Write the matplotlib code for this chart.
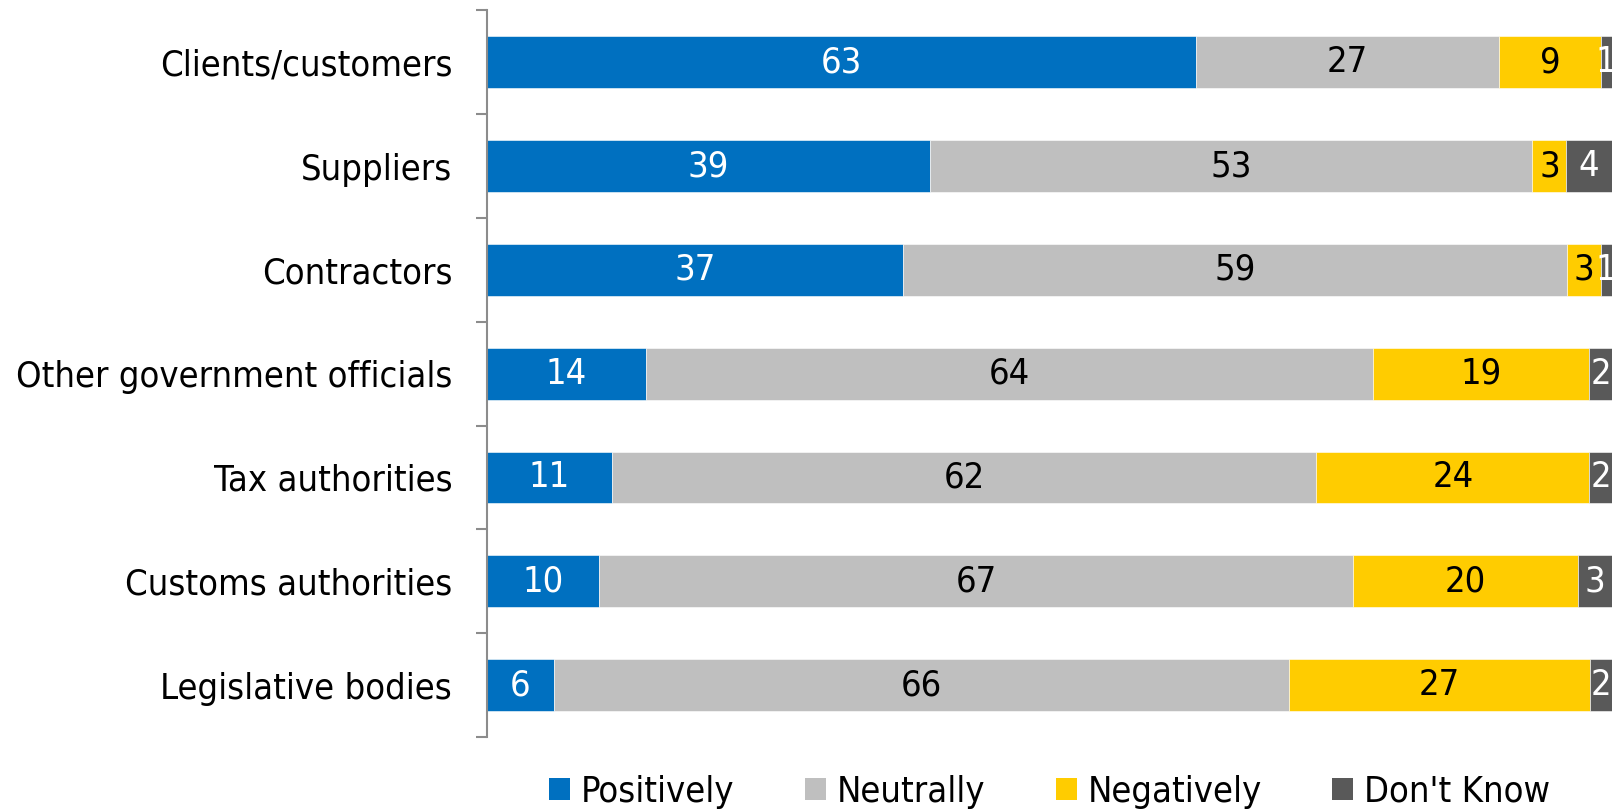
import matplotlib.pyplot as plt
import numpy as np
from matplotlib import font_manager
from matplotlib.patches import Patch

categories = [
    "Clients/customers",
    "Suppliers",
    "Contractors",
    "Other government officials",
    "Tax authorities",
    "Customs authorities",
    "Legislative bodies",
]
positively = [63, 39, 37, 14, 11, 10, 6]
neutrally = [27, 53, 59, 64, 62, 67, 66]
negatively = [9, 3, 3, 19, 24, 20, 27]
dont_know = [1, 4, 1, 2, 2, 3, 2]

series_names = ["Positively", "Neutrally", "Negatively", "Don't Know"]
colors = ["#0070C0", "#BFBFBF", "#FFCC00", "#595959"]
text_colors = ["white", "black", "black", "white"]

# narrower face if the condensed DejaVu is on the system
has_condensed = any("Condensed" in f.fname for f in font_manager.fontManager.ttflist
                    if f.name == "DejaVu Sans")
plt.rcParams["font.family"] = ["DejaVu Sans"]
if has_condensed:
    plt.rcParams["font.stretch"] = "condensed"
    FS = 26
else:
    FS = 23

fig = plt.figure(figsize=(16.2, 8.11), dpi=100)
ax = fig.add_axes([0.3006, 0.0912, 0.6944, 0.8961])

data = np.array([positively, neutrally, negatively, dont_know], dtype=float)
# 100% stacked: scale each row by its total
shares = data / data.sum(axis=0) * 100
y = np.arange(len(categories))
left = np.zeros(len(categories))

for vals, shr, name, col, tcol in zip(data, shares, series_names, colors, text_colors):
    ax.barh(y, shr, left=left, height=0.5, color=col, label=name,
            edgecolor="white", linewidth=0.4)
    for yi, v, s, l in zip(y, vals, shr, left):
        ax.text(l + s / 2, yi, f"{v:.0f}", ha="center", va="center",
                fontsize=FS, color=tcol)
    left += shr

ax.set_xlim(0, 100)
ax.set_ylim(len(categories) - 0.5, -0.5)
ax.set_yticks(y)
ax.set_yticklabels(categories, fontsize=FS)
ax.set_yticks(np.arange(-0.5, len(categories), 1), minor=True)
ax.tick_params(axis="y", which="major", length=0, pad=25)
ax.tick_params(axis="y", which="minor", length=8, width=1.5, color="#8C8C8C")
ax.set_xticks([])

for side in ["top", "right", "bottom"]:
    ax.spines[side].set_visible(False)
ax.spines["left"].set_color("#8C8C8C")
ax.spines["left"].set_linewidth(1.5)

handles = [Patch(facecolor=c, label=n) for c, n in zip(colors, series_names)]
fig.legend(handles=handles, loc="center", ncol=4, bbox_to_anchor=(0.648, 0.024),
           frameon=False, fontsize=FS, handlelength=0.58, handleheight=0.58,
           handletextpad=0.3, columnspacing=1.95, borderpad=0)

fig.savefig("out.png", dpi=100)
